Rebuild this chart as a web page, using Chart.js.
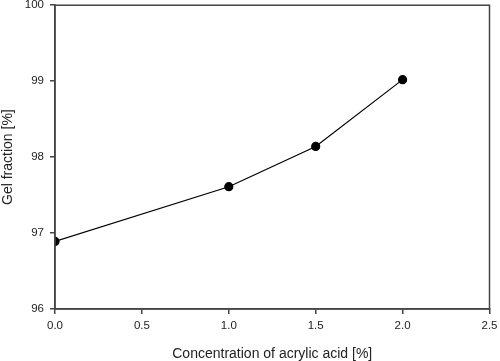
<!DOCTYPE html>
<html><head><meta charset="utf-8">
<script src="https://cdn.jsdelivr.net/npm/chart.js@4/dist/chart.umd.min.js"></script>
<style>
html,body{margin:0;padding:0;width:500px;height:361px;overflow:hidden;background:#fff;}
#wrap{width:520px;height:361px;position:relative;}
</style></head>
<body><div id="wrap"><canvas id="c"></canvas></div>
<script>
const concentration = [0.0, 1.0, 1.5, 2.0];
const gelFraction = [96.89, 97.61, 98.14, 99.02];
const xTicks = [0.0, 0.5, 1.0, 1.5, 2.0, 2.5];
const yTicks = [96, 97, 98, 99, 100];
const xTitle = 'Concentration of acrylic acid [%]';
const yTitle = 'Gel fraction [%]';

const frame = {
  id: 'frame',
  afterDraw(chart) {
    const a = chart.chartArea, ctx = chart.ctx;
    ctx.save();
    ctx.strokeStyle = '#444';
    ctx.lineWidth = 1.5;
    ctx.strokeRect(a.left, a.top, a.right - a.left, a.bottom - a.top);
    ctx.restore();
  }
};

const fam = 'Liberation Sans, Arial, sans-serif';
const font = {family: fam, size: 11.5};
new Chart(document.getElementById('c'), {
  type: 'line',
  data: {
    datasets: [{
      data: concentration.map((x, i) => ({x, y: gelFraction[i]})),
      borderColor: '#000', borderWidth: 1.2,
      pointRadius: 4, pointBackgroundColor: '#000', pointBorderColor: '#000',
      tension: 0, fill: false
    }]
  },
  options: {
    responsive: true, maintainAspectRatio: false, animation: false,
    layout: {padding: {top: 5, right: 30.5, left: 0, bottom: 0}},
    plugins: {legend: {display: false}, tooltip: {enabled: false}},
    scales: {
      x: {
        type: 'linear', min: 0, max: 2.5,
        afterBuildTicks: s => { s.ticks = xTicks.map(v => ({value: v})); },
        afterFit: s => { s.height = 52; s.paddingLeft = 0; s.paddingRight = 0; },
        ticks: {font, color: '#222', padding: 5, callback: v => v.toFixed(1), autoSkip: false, maxRotation: 0},
        grid: {drawOnChartArea: false, drawTicks: true, tickLength: 5, tickColor: '#444', lineWidth: 1.5},
        border: {color: '#444', width: 1.5},
        title: {display: true, text: xTitle, font: {family: fam, size: 14}, color: '#222', padding: {top: 0, bottom: -2}}
      },
      y: {
        type: 'linear', min: 96, max: 100,
        afterBuildTicks: s => { s.ticks = yTicks.map(v => ({value: v})); },
        afterFit: s => { s.width = 55; s.paddingTop = 0; s.paddingBottom = 0; },
        ticks: {font, color: '#222', padding: 6, callback: v => String(v)},
        grid: {drawOnChartArea: false, drawTicks: true, tickLength: 5, tickColor: '#444', lineWidth: 1.5},
        border: {color: '#444', width: 1.5},
        title: {display: true, text: yTitle, font: {family: fam, size: 14}, color: '#222', padding: 0}
      }
    }
  },
  plugins: [frame]
});
</script></body></html>
